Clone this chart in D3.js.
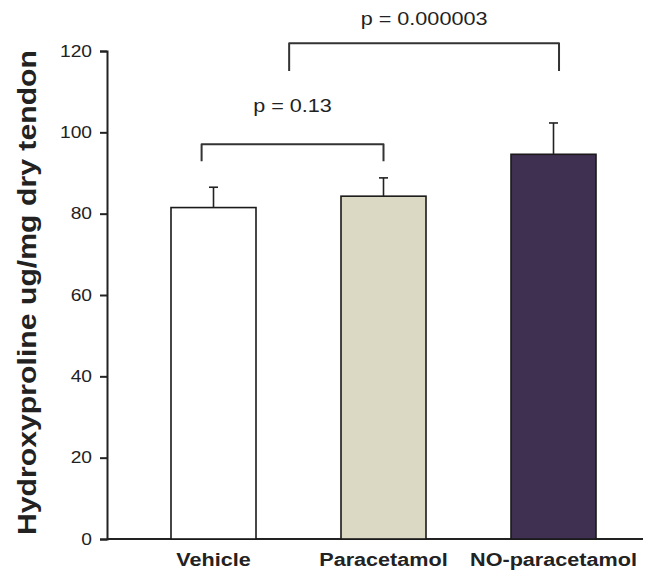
<!DOCTYPE html>
<html>
<head>
<meta charset="utf-8">
<script src="https://cdn.jsdelivr.net/npm/d3@7"></script>
<style>
  body { margin: 0; background: #fff; }
  text { font-family: "Liberation Sans", Arial, sans-serif; fill: #222; }
</style>
</head>
<body>
<div id="chart"></div>
<script>
// ---------------------------------------------
// data
// ---------------------------------------------
const categories = ["Vehicle", "Paracetamol", "NO-paracetamol"];
const means = [81.5, 84.3, 94.6];
const errors = [5.0, 4.5, 7.7];
const barColors = ["#ffffff", "#dbd8c3", "#3f2f51"];
const yTicks = [0, 20, 40, 60, 80, 100, 120];
// comparison brackets: from/to category, offset inside band (fraction), bar level, drop level
const bracketLabels = ["p = 0.13", "p = 0.000003"];
const bracketFrom = [["Vehicle", 0.36], ["Paracetamol", -0.61]];
const bracketTo = [["Paracetamol", 0.5], ["NO-paracetamol", 0.565]];
const bracketTop = [97.1, 121.9];
const bracketDrop = [92.9, 115.1];
const bracketText = [104.9, 126.4];

const width = 651, height = 573;
const stretch = 1.2; // the source figure is widened horizontally

let svg = d3.select('#chart')
  .append('svg')
  .attr('width', width)
  .attr('height', height);

let x = d3.scaleBand()
  .domain(categories)
  .range([128.5, 638.5])
  .paddingInner(0.5)
  .paddingOuter(0.25);

let y = d3.scaleLinear()
  .domain([0, 120])
  .range([539, 51]);

// stretch a text element horizontally to mimic the source
function widen(sel, f) {
  sel.each(function() {
    let w = this.getComputedTextLength();
    d3.select(this)
      .attr('textLength', w * (f || stretch))
      .attr('lengthAdjust', 'spacingAndGlyphs');
  });
}

// y axis
let yAxis = svg.append('g')
  .attr('transform', 'translate(107,0)')
  .call(d3.axisLeft(y).tickValues(yTicks).tickSize(7).tickPadding(8));
yAxis.select('.domain').attr('stroke', '#222').attr('stroke-width', 2);
yAxis.selectAll('.tick line').attr('stroke', '#222').attr('stroke-width', 2);
yAxis.selectAll('.tick text')
  .attr('font-size', 16)
  .attr('fill', '#222')
  .style('font-family', '"Liberation Sans", Arial, sans-serif')
  .call(widen);

// x axis baseline (no ticks)
svg.append('line')
  .attr('x1', 107).attr('x2', 643)
  .attr('y1', y(0)).attr('y2', y(0))
  .attr('stroke', '#222').attr('stroke-width', 2);

// bars
svg.append('g').selectAll('rect')
  .data(categories)
  .enter().append('rect')
    .attr('x', d => x(d))
    .attr('width', x.bandwidth())
    .attr('y', (d, i) => y(means[i]))
    .attr('height', (d, i) => y(0) - y(means[i]))
    .attr('fill', (d, i) => barColors[i])
    .attr('stroke', '#1a1a1a')
    .attr('stroke-width', 1.6);

// error bars (upper only)
let err = svg.append('g').selectAll('g')
  .data(categories)
  .enter().append('g')
    .attr('stroke', '#222')
    .attr('stroke-width', 1.6);
err.append('line')
  .attr('x1', d => x(d) + x.bandwidth() / 2)
  .attr('x2', d => x(d) + x.bandwidth() / 2)
  .attr('y1', (d, i) => y(means[i]))
  .attr('y2', (d, i) => y(means[i] + errors[i]));
err.append('line')
  .attr('x1', d => x(d) + x.bandwidth() / 2 - 4.5)
  .attr('x2', d => x(d) + x.bandwidth() / 2 + 4.5)
  .attr('y1', (d, i) => y(means[i] + errors[i]))
  .attr('y2', (d, i) => y(means[i] + errors[i]));

// category labels
svg.append('g').selectAll('text')
  .data(categories)
  .enter().append('text')
    .attr('x', d => x(d) + x.bandwidth() / 2)
    .attr('y', 566)
    .attr('text-anchor', 'middle')
    .attr('font-size', 18)
    .attr('font-weight', 'bold')
    .text(d => d)
    .call(widen);

// significance brackets
bracketLabels.forEach((lab, i) => {
  let x1 = x(bracketFrom[i][0]) + bracketFrom[i][1] * x.bandwidth(),
      x2 = x(bracketTo[i][0]) + bracketTo[i][1] * x.bandwidth();
  svg.append('path')
    .attr('d', d3.line()([[x1, y(bracketDrop[i])], [x1, y(bracketTop[i])], [x2, y(bracketTop[i])], [x2, y(bracketDrop[i])]]))
    .attr('fill', 'none')
    .attr('stroke', '#333')
    .attr('stroke-width', 2)
    .attr('stroke-linejoin', 'round');
  svg.append('text')
    .attr('x', (x1 + x2) / 2)
    .attr('y', y(bracketText[i]))
    .attr('text-anchor', 'middle')
    .attr('font-size', 18)
    .text(lab)
    .call(widen);
});

// y axis title
svg.append('text')
  .attr('transform', 'translate(36,' + ((50 + 535) / 2) + ') rotate(-90)')
  .attr('text-anchor', 'middle')
  .attr('font-size', 26)
  .attr('font-weight', 'bold')
  .attr('textLength', 485)
  .attr('lengthAdjust', 'spacingAndGlyphs')
  .text('Hydroxyproline ug/mg dry tendon');
</script>
</body>
</html>
